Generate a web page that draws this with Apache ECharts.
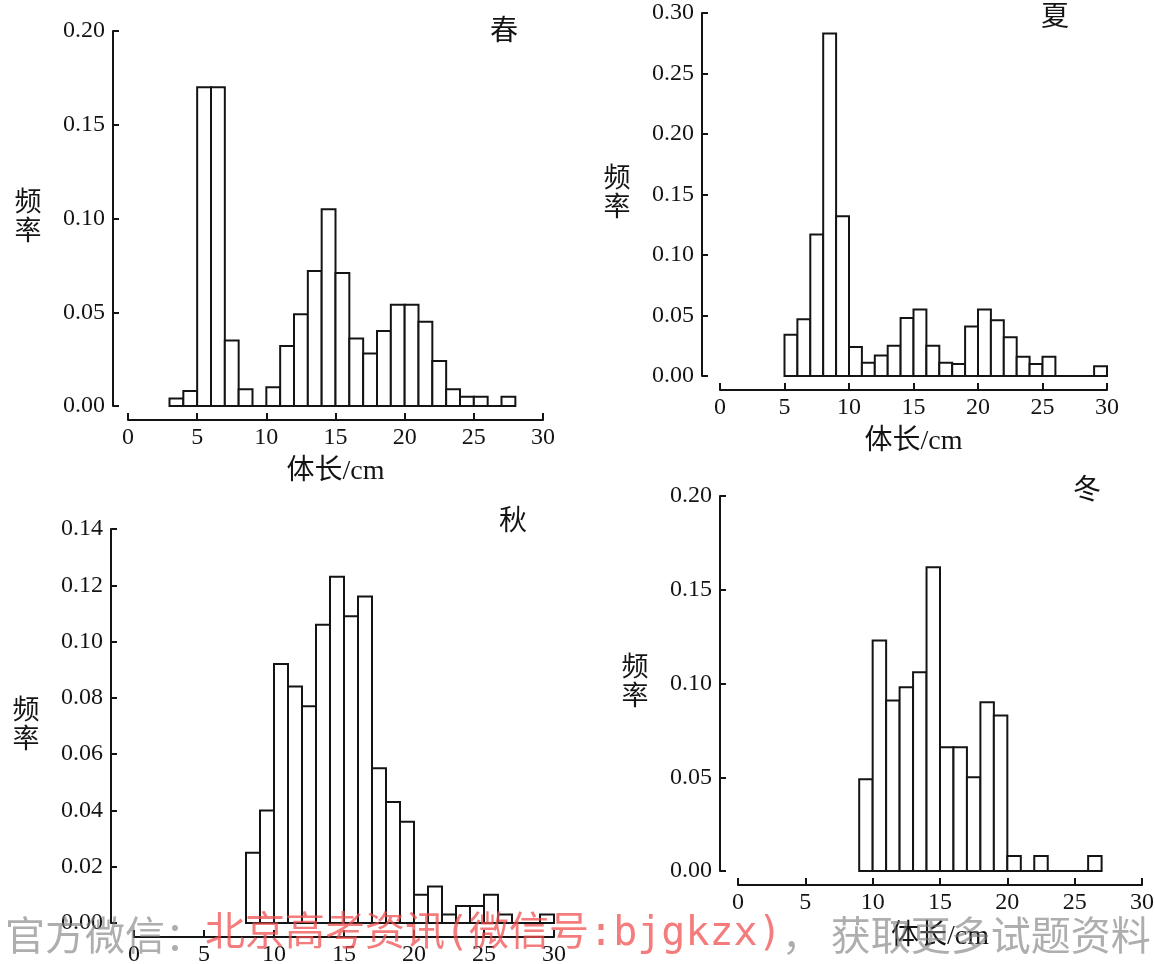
<!DOCTYPE html>
<html>
<head>
<meta charset="utf-8">
<title>体长频率分布</title>
<script src="https://cdn.jsdelivr.net/npm/echarts@6.0.0/dist/echarts.min.js"></script>
<style>
  html, body { margin: 0; padding: 0; background: #fff; }
  #main { width: 1155px; height: 964px; }
</style>
</head>
<body>
<div id="main"></div>
<script>
// season names
var seasons = ['春', '夏', '秋', '冬'];

// each bin is 1 cm wide; first bin starts at *Start
var springStart = 3;
var springFreq = [0.004, 0.008, 0.170, 0.170, 0.035, 0.009, 0, 0.010, 0.032, 0.049, 0.072, 0.105, 0.071,
                  0.036, 0.028, 0.040, 0.054, 0.054, 0.045, 0.024, 0.009, 0.005, 0.005, 0, 0.005];
var summerStart = 5;
var summerFreq = [0.034, 0.047, 0.117, 0.283, 0.132, 0.024, 0.011, 0.017, 0.025, 0.048, 0.055, 0.025,
                  0.011, 0.010, 0.041, 0.055, 0.046, 0.032, 0.016, 0.010, 0.016, 0, 0, 0, 0.008];
var autumnStart = 8;
var autumnFreq = [0.025, 0.040, 0.092, 0.084, 0.077, 0.106, 0.123, 0.109, 0.116, 0.055, 0.043, 0.036,
                  0.010, 0.013, 0.003, 0.006, 0.006, 0.010, 0.003, 0, 0, 0.003];
var winterStart = 9;
var winterFreq = [0.049, 0.123, 0.091, 0.098, 0.106, 0.162, 0.066, 0.066, 0.050, 0.090, 0.083, 0.008,
                  0, 0.008, 0, 0, 0, 0.008];

// y axis ranges per panel
var yMax = [0.20, 0.30, 0.14, 0.20];
var yStep = [0.05, 0.05, 0.02, 0.05];

var FONT = '"Liberation Serif", "Noto Sans CJK SC", serif';
var INK = '#141414';

// panel boxes: x=0..30 from left to left+width, y=0 at top+height
var panels = [
  {left: 128, top: 31,  width: 415, height: 375, yOff: 15, lab: [504, 33]},
  {left: 720, top: 13,  width: 387, height: 363, yOff: 18, lab: [1055, 19]},
  {left: 134, top: 529, width: 420, height: 394, yOff: 23, lab: [513, 523]},
  {left: 738, top: 496, width: 404, height: 375, yOff: 18, lab: [1087, 492]}
];

function toBins(start, freq) {
  var out = [];
  for (var i = 0; i < freq.length; i++) {
    out.push([start + i, start + i + 1, freq[i]]);
  }
  return out;
}

var allBins = [
  toBins(springStart, springFreq),
  toBins(summerStart, summerFreq),
  toBins(autumnStart, autumnFreq),
  toBins(winterStart, winterFreq)
];

function renderBar(params, api) {
  var f = api.value(2);
  if (!f) return null;
  var p0 = api.coord([api.value(0), 0]);
  var p1 = api.coord([api.value(1), f]);
  return {
    type: 'rect',
    shape: {x: p0[0], y: p1[1], width: p1[0] - p0[0], height: p0[1] - p1[1]},
    style: {fill: '#fff', stroke: INK, lineWidth: 2}
  };
}

var grids = [], xAxes = [], yAxes = [], series = [], graphics = [];

panels.forEach(function (p, i) {
  grids.push({left: p.left, top: p.top, width: p.width, height: p.height, outerBoundsMode: 'none'});
  xAxes.push({
    type: 'value', gridIndex: i, min: 0, max: 30, interval: 5, offset: 14,
    axisLine: {show: true, onZero: false, lineStyle: {color: INK, width: 2}},
    axisTick: {show: true, inside: true, length: 7, lineStyle: {color: INK, width: 2}},
    axisLabel: {margin: 6, fontSize: 24, color: INK, fontFamily: FONT},
    splitLine: {show: false},
    name: '体长/cm', nameLocation: 'middle', nameGap: 38,
    nameTextStyle: {fontSize: 28, color: INK, fontFamily: FONT, verticalAlign: 'top'}
  });
  yAxes.push({
    type: 'value', gridIndex: i, min: 0, max: yMax[i], interval: yStep[i], offset: p.yOff,
    axisLine: {show: true, onZero: false, lineStyle: {color: INK, width: 2}},
    axisTick: {show: true, inside: true, length: 6, lineStyle: {color: INK, width: 2}},
    axisLabel: {margin: 8, fontSize: 24, color: INK, fontFamily: FONT,
      formatter: function (v) { return v.toFixed(2); }},
    splitLine: {show: false},
    name: '频\n率', nameLocation: 'middle', nameRotate: 0, nameGap: 85,
    nameTextStyle: {fontSize: 27, lineHeight: 29, color: INK, fontFamily: FONT,
      align: 'center', verticalAlign: 'middle'}
  });
  var bins = allBins[i];
  series.push({
    type: 'custom', xAxisIndex: i, yAxisIndex: i,
    renderItem: renderBar, data: bins,
    encode: {x: [0, 1], y: 2}, clip: false
  });
  series.push({
    type: 'line', xAxisIndex: i, yAxisIndex: i, symbol: 'none', silent: true,
    data: [[bins[0][0], 0], [bins[bins.length - 1][1], 0]],
    lineStyle: {color: INK, width: 2}, z: 3
  });
  graphics.push({
    type: 'text', x: p.lab[0], y: p.lab[1],
    style: {text: seasons[i], font: '28px ' + FONT, fill: INK,
      textAlign: 'center', textVerticalAlign: 'middle'}
  });
});

// footer line printed over the scan
graphics.push({
  type: 'text', x: 5, y: 935, z: 100,
  style: {
    text: '{g|官方微信：}{r|北京高考资讯(微信号:bjgkzx)}{g|， 获取更多试题资料}',
    textVerticalAlign: 'middle',
    rich: {
      g: {fontSize: 40, fontFamily: '"Noto Sans CJK SC", "DejaVu Sans Mono"', fill: 'rgba(120,120,120,0.6)'},
      r: {fontSize: 40, fontFamily: '"DejaVu Sans Mono", "Noto Sans CJK SC"', fill: 'rgba(240,80,80,0.75)'}
    }
  }
});

var chart = echarts.init(document.getElementById('main'));
chart.setOption({
  backgroundColor: '#fff',
  animation: false,
  grid: grids,
  xAxis: xAxes,
  yAxis: yAxes,
  series: series,
  graphic: graphics
});
</script>
</body>
</html>
